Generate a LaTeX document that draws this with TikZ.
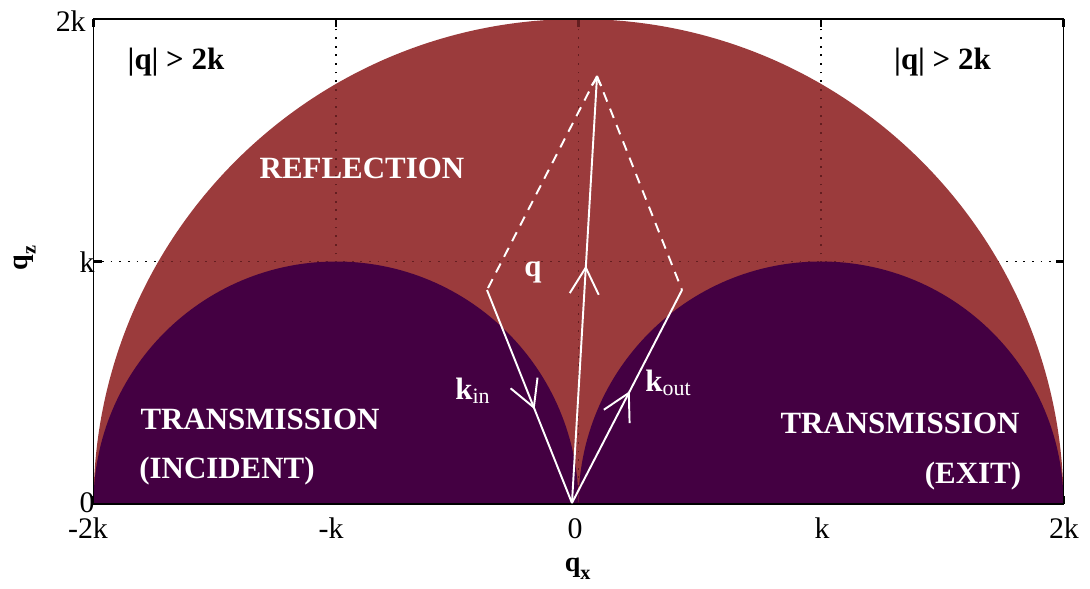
\documentclass[tikz,border=0pt]{standalone}
\usepackage{fontspec}
\setmainfont{Liberation Serif}
\usetikzlibrary{arrows.meta,decorations.markings}
\definecolor{refl}{RGB}{155,59,60}
\definecolor{trans}{RGB}{68,0,66}
\definecolor{gridred}{RGB}{100,30,32}
\tikzset{
  region/.style={font=\fontsize{17.6}{20}\selectfont\bfseries, text=white, inner sep=0pt},
  blacklab/.style={font=\fontsize{17.6}{20}\selectfont\bfseries, text=black, inner sep=0pt},
  ticklab/.style={font=\fontsize{17}{19}\selectfont, inner sep=0pt},
  axlab/.style={font=\fontsize{16}{18}\selectfont\bfseries, inner sep=0pt},
  gridline/.style={line width=1pt, dash pattern=on 1pt off 3.9pt},
  vec/.style={white, line width=1.1pt},
  dashvec/.style={white, line width=1.1pt, dash pattern=on 5.7pt off 4.3pt},
  midarrow/.style={postaction={decorate, decoration={markings,
     mark=at position #1 with {\arrow{Straight Barb[length=15pt,width=16.5pt]}}}}},
  tickmark/.style={line width=1.2pt}
}
\newcommand{\subtxt}[1]{\raisebox{-0.28em}{\fontsize{11.5}{13}\selectfont #1}}
\begin{document}
\begin{tikzpicture}[x=4.85cm,y=4.85cm]
\useasboundingbox (-2.3856,-0.3464) rectangle (2.1093,2.0784);
% grid and ticks (under the regions)
\foreach \x in {-1,0,1} \draw[gridline] (\x,0) -- (\x,2);
\draw[gridline] (-2,1) -- (2,1);
\foreach \x in {-2,-1,0,1,2} {
  \draw[tickmark] (\x,2) -- (\x,1.967);
  \draw[tickmark] (\x,0) -- (\x,0.033);
}
\foreach \y in {0,1,2} {
  \draw[tickmark] (-2,\y) -- (-1.967,\y);
  \draw[tickmark] (2,\y) -- (1.967,\y);
}
% reflection region
\fill[refl] (-2,0) arc[start angle=180,end angle=0,radius=2] -- cycle;
\begin{scope}
  \clip (-2,0) arc[start angle=180,end angle=0,radius=2] -- cycle;
  \foreach \x in {-1,0,1} {
    \draw[gridline,gridred] (\x,0) -- (\x,2);
    \draw[tickmark,gridred] (\x,2) -- (\x,1.967);
  }
  \draw[gridline,gridred] (-2,1) -- (2,1);
\end{scope}
% transmission regions
\fill[trans] (-2,0) arc[start angle=180,end angle=0,radius=1] -- cycle;
\fill[trans] (0,0) arc[start angle=180,end angle=0,radius=1] -- cycle;
% axes box
\draw[line width=1.1pt] (-2,0) rectangle (2,2);
% vectors
\coordinate (V) at (-0.027,0.004);
\coordinate (A) at (-0.3773,0.8825);
\coordinate (B) at (0.4268,0.8825);
\coordinate (Q) at (0.0765,1.765);
\draw[dashvec] (Q) -- (A);
\draw[dashvec] (Q) -- (B);
\draw[vec, midarrow=0.56] (A) -- (V);
\draw[vec, midarrow=0.525] (V) -- (B);
\draw[vec, midarrow=0.556, -{Straight Barb[length=4.5pt,width=5.5pt]}] (V) -- (Q);
% labels
\node[blacklab, anchor=base] (gl) at (-1.6598,1.7897) {|q| > 2k};
\node[blacklab, anchor=base] (gr) at (1.501,1.7897) {|q| > 2k};
\node[region, anchor=base] (refl) at (-0.8928,1.3443) {REFLECTION};
\node[region] (qlab) at (-0.1876,0.9567) {q};
\node[region, anchor=base west] (kin) at (-0.5093,0.4289) {k\raisebox{-0.1em}{\textmd{\fontsize{12.5}{14}\selectfont in}}};
\node[region, anchor=base west] (kout) at (0.2742,0.4619) {k\raisebox{-0.1em}{\textmd{\fontsize{12.5}{14}\selectfont out}}};
\node[region, anchor=base] (tl) at (-1.3134,0.3052) {TRANSMISSION};
\node[region, anchor=base] (il) at (-1.4495,0.1072) {(INCIDENT)};
\node[region, anchor=base] (tr) at (1.3258,0.2887) {TRANSMISSION};
\node[region, anchor=base] (el) at (1.6268,0.0866) {(EXIT)};
% tick labels
\node[ticklab, anchor=base east] (y2) at (-2.0309,1.9505) {2k};
\node[ticklab, anchor=base east] (y1) at (-1.9938,0.9526) {k};
\node[ticklab, anchor=base east] (y0) at (-1.9938,-0.037) {0};
\node[ticklab, anchor=base] (xm2) at (-2.0227,-0.1443) {-2k};
\node[ticklab, anchor=base] (xm1) at (-1.0206,-0.1443) {-k};
\node[ticklab, anchor=base] (x0) at (-0.0144,-0.1443) {0};
\node[ticklab, anchor=base] (x1) at (1.004,-0.1443) {k};
\node[ticklab, anchor=base] (x2) at (2.002,-0.1443) {2k};
% axis labels
\node[axlab, anchor=base west] (qx) at (-0.058,-0.2804) {q\subtxt{x}};
\node[axlab, rotate=90] (qz) at (-2.2825,1.0144) {q\subtxt{z}};
\end{tikzpicture}
\end{document}
